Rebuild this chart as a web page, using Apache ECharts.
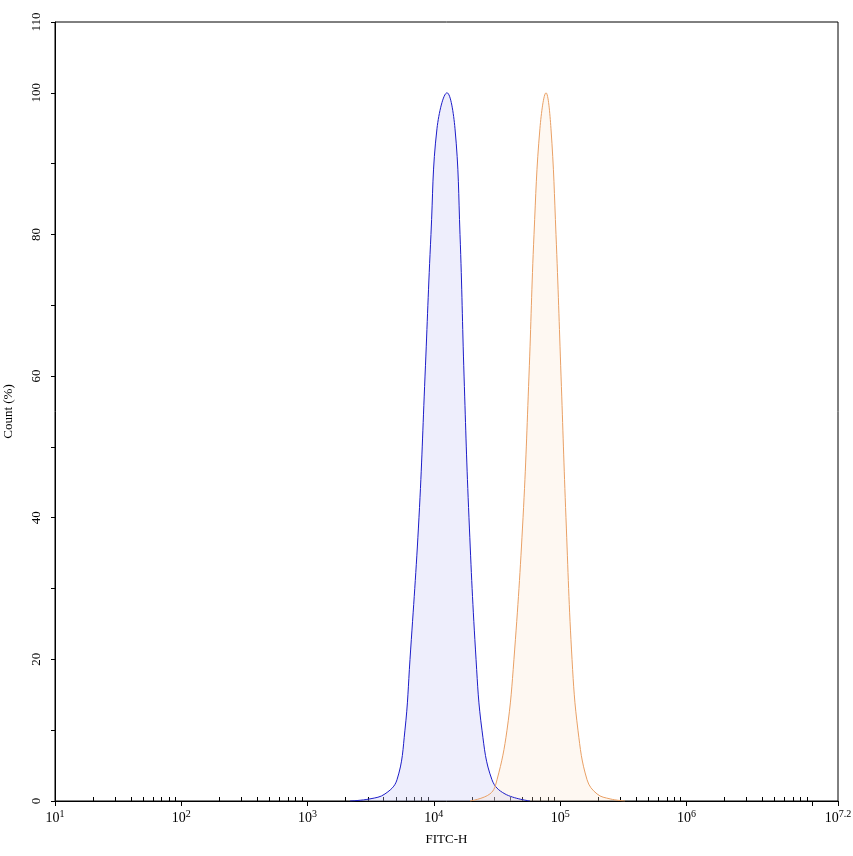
<!DOCTYPE html><html><head><meta charset="utf-8">
<script src="https://cdn.jsdelivr.net/npm/echarts@6/dist/echarts.min.js"></script>
<style>body{margin:0}#c{width:853px;height:856px}</style></head><body><div id="c"></div>
<script>
// x values are log10(FITC-H)
const blueX = [3.336,3.494,3.613,3.708,3.771,3.811,3.882,3.930,3.977,4.025,4.104,4.167,4.207,4.239,4.278,4.334,4.381,4.460,4.563,4.761];
const blueY = [0,0.3,1,3,10,20,40,60,80,95,100,95,80,60,40,20,10,3,1,0];
const orangeX = [4.286,4.444,4.500,4.579,4.634,4.706,4.753,4.793,4.840,4.888,4.927,4.967,5.007,5.046,5.094,5.141,5.213,5.292,5.395,5.513];
const orangeY = [0,1,3,10,20,40,60,80,95,100,95,80,60,40,20,10,3,1,0.3,0];
const xMajor = [1,2,3,4,5,6,7.2];
const xTicks = [1,2,3,4,5,6,7,7.2];
const yLabels = [0,20,40,60,80,100,110];
const xMinor = [];
for (let d=1; d<7; d++) for (let k=2; k<10; k++) xMinor.push(d+Math.log10(k));
const zip=(a,b)=>a.map((v,i)=>[v,b[i]]);
const font='"Liberation Serif","DejaVu Serif",serif';
const chart=echarts.init(document.getElementById('c'));
chart.setOption({
  animation:false,
  grid:{left:55,right:15,top:22,bottom:55,outerBoundsMode:'none',containLabel:false,show:true,borderColor:'#000',borderWidth:1},
  xAxis:[{type:'value',min:1,max:7.2,name:'FITC-H',nameLocation:'middle',nameGap:32,
    nameTextStyle:{fontFamily:font,fontSize:13,color:'#000'},
    axisLine:{lineStyle:{color:'#000'}},splitLine:{show:false},
    axisTick:{customValues:xTicks,length:5,lineStyle:{color:'#000'}},
    axisLabel:{customValues:xMajor,fontFamily:font,color:'#000',margin:8,
      formatter:v=>'{b|10}{s|'+(Math.abs(v-7.2)<1e-6?'7.2':Math.round(v))+'}',
      rich:{b:{fontFamily:font,fontSize:14,color:'#000'},s:{fontFamily:font,fontSize:10,color:'#000',verticalAlign:'top',padding:[0,0,8,0]}}}},
   {type:'value',min:1,max:7.2,position:'bottom',axisLine:{show:false},splitLine:{show:false},
    axisLabel:{show:false},axisTick:{customValues:xMinor,inside:true,length:4,lineStyle:{color:'#000'}}}],
  yAxis:{type:'value',min:0,max:110,interval:10,name:'Count (%)',nameLocation:'middle',nameGap:40,nameRotate:90,
    nameTextStyle:{fontFamily:font,fontSize:13,color:'#000'},
    axisLine:{show:true,lineStyle:{color:'#000'}},splitLine:{show:false},
    axisTick:{show:true,length:4,lineStyle:{color:'#000'}},
    axisLabel:{customValues:yLabels,rotate:90,fontFamily:font,fontSize:13,color:'#000',margin:12}},
  series:[
    {type:'line',data:zip(blueX,blueY),smooth:0.4,symbol:'none',lineStyle:{color:'#1c1cc8',width:1},areaStyle:{color:'rgba(200,200,245,0.45)'}},
    {type:'line',data:zip(orangeX,orangeY),smooth:0.4,symbol:'none',lineStyle:{color:'#e9a065',width:1},areaStyle:{color:'rgba(250,225,200,0.35)'}}
  ]
});
</script></body></html>
